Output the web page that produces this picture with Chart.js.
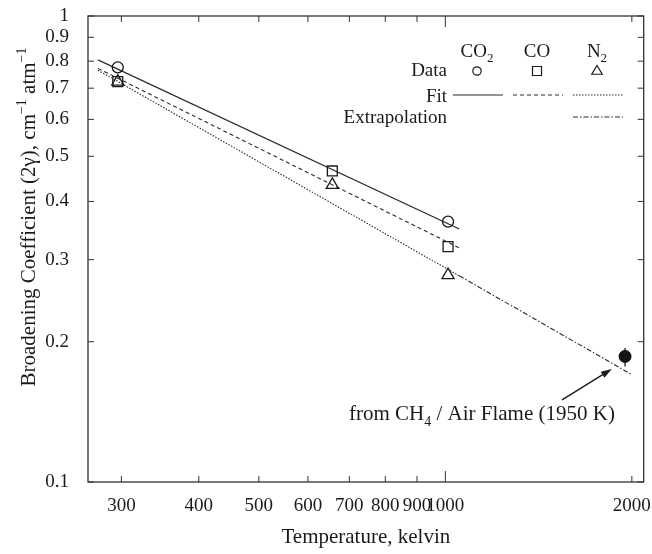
<!DOCTYPE html>
<html>
<head>
<meta charset="utf-8">
<script src="https://cdn.jsdelivr.net/npm/chart.js@4.4.1/dist/chart.umd.min.js"></script>
<style>
  html, body { margin: 0; padding: 0; background: #fff; }
  #wrap { position: relative; width: 652px; height: 554px; }
</style>
</head>
<body>
<div id="wrap"><canvas id="broadening-chart"></canvas></div>
<script>
// measured points (temperature in K, coefficient in cm-1 atm-1)
var co2Temp = [296, 1010];
var co2Coef = [0.776, 0.362];
var coTemp = [296, 657, 1010];
var coCoef = [0.723, 0.465, 0.32];
var n2Temp = [296, 657, 1010];
var n2Coef = [0.723, 0.434, 0.278];

// power-law fits, end points only
var fitTemp = [275, 1053];
var co2FitCoef = [0.805, 0.349];
var coFitCoef = [0.772, 0.318];
var n2FitCoef = [0.765, 0.277];
var extrapTemp = [1053, 2000];
var n2ExtrapCoef = [0.277, 0.17];

// CH4 / air flame point with error bar
var flameTemp = [1950];
var flameCoef = [0.186];
var flameErrLow = [0.177];
var flameErrHigh = [0.194];

var xTicks = [300, 400, 500, 600, 700, 800, 900, 1000, 2000];
var xTickLabels = ['300', '400', '500', '600', '700', '800', '900', '1000', '2000'];
var xMajor = [1000];
var yTicks = [0.1, 0.2, 0.3, 0.4, 0.5, 0.6, 0.7, 0.8, 0.9, 1];
var yTickLabels = ['0.1', '0.2', '0.3', '0.4', '0.5', '0.6', '0.7', '0.8', '0.9', '1'];

// annotation arrow + label, in data coordinates
var arrowFrom = [1543, 0.15];
var arrowTo = [1857, 0.1748];
var noteAnchor = [1878, 0.1359]; // right end of text, baseline

var FONT = "'Liberation Serif', 'Times New Roman', serif";
var INK = '#1a1a1a';
var LINE = '#2a2a2a';

function pairs(xs, ys) {
  return xs.map(function (x, i) { return { x: x, y: ys[i] }; });
}

// parts: [text, kind] with kind '' | 'sub' | 'sup'; alphabetic baseline
function richText(ctx, parts, x, y, align, size) {
  size = size || 19;
  var small = Math.round(size * 0.68);
  function fontFor(k) { return (k ? small : size) + 'px ' + FONT; }
  var w = 0;
  parts.forEach(function (p) {
    ctx.font = fontFor(p[1]);
    w += ctx.measureText(p[0]).width;
  });
  var cx = align === 'right' ? x - w : (align === 'center' ? x - w / 2 : x);
  parts.forEach(function (p) {
    ctx.font = fontFor(p[1]);
    var dy = p[1] === 'sub' ? size * 0.27 : (p[1] === 'sup' ? -size * 0.42 : 0);
    ctx.fillText(p[0], cx, y + dy);
    cx += ctx.measureText(p[0]).width;
  });
}

function marker(ctx, style, x, y, r) {
  ctx.beginPath();
  if (style === 'circle') {
    ctx.arc(x, y, r, 0, Math.PI * 2);
  } else if (style === 'rect') {
    ctx.rect(x - r, y - r, 2 * r, 2 * r);
  } else {
    ctx.moveTo(x, y - r * 1.1);
    ctx.lineTo(x + r * 1.05, y + r * 0.65);
    ctx.lineTo(x - r * 1.05, y + r * 0.65);
    ctx.closePath();
  }
  ctx.stroke();
}

var frameAndNotes = {
  id: 'frameAndNotes',
  afterDatasetsDraw: function (chart) {
    var ctx = chart.ctx, a = chart.chartArea;
    var xs = chart.scales.x, ys = chart.scales.y;
    ctx.save();

    function seg(x1, y1, x2, y2) {
      ctx.beginPath(); ctx.moveTo(x1, y1); ctx.lineTo(x2, y2); ctx.stroke();
    }

    // frame and inward ticks
    ctx.strokeStyle = '#333';
    ctx.lineWidth = 1.3;
    ctx.setLineDash([]);
    ctx.strokeRect(a.left, a.top, a.right - a.left, a.bottom - a.top);
    ctx.lineWidth = 1;
    xTicks.forEach(function (v) {
      var px = xs.getPixelForValue(v);
      var len = xMajor.indexOf(v) >= 0 ? 11 : 6;
      seg(px, a.bottom, px, a.bottom - len);
      seg(px, a.top, px, a.top + len);
    });
    yTicks.forEach(function (v) {
      var py = ys.getPixelForValue(v);
      seg(a.left, py, a.left + 6, py);
      seg(a.right, py, a.right - 6, py);
    });

    // error bar on flame point
    ctx.strokeStyle = INK;
    ctx.lineWidth = 1.3;
    flameTemp.forEach(function (t, i) {
      var px = xs.getPixelForValue(t);
      seg(px, ys.getPixelForValue(flameErrLow[i]), px, ys.getPixelForValue(flameErrHigh[i]));
    });

    // arrow
    var x1 = xs.getPixelForValue(arrowFrom[0]), y1 = ys.getPixelForValue(arrowFrom[1]);
    var x2 = xs.getPixelForValue(arrowTo[0]), y2 = ys.getPixelForValue(arrowTo[1]);
    var ang = Math.atan2(y2 - y1, x2 - x1);
    ctx.lineWidth = 1.4;
    seg(x1, y1, x2 - 8 * Math.cos(ang), y2 - 8 * Math.sin(ang));
    ctx.fillStyle = INK;
    ctx.beginPath();
    ctx.moveTo(x2, y2);
    ctx.lineTo(x2 - 11 * Math.cos(ang) + 3.5 * Math.sin(ang), y2 - 11 * Math.sin(ang) - 3.5 * Math.cos(ang));
    ctx.lineTo(x2 - 11 * Math.cos(ang) - 3.5 * Math.sin(ang), y2 - 11 * Math.sin(ang) + 3.5 * Math.cos(ang));
    ctx.closePath();
    ctx.fill();

    // annotation text
    ctx.textBaseline = 'alphabetic';
    richText(ctx, [['from CH', ''], ['4', 'sub'], [' / Air Flame (1950 K)', '']],
      xs.getPixelForValue(noteAnchor[0]), ys.getPixelForValue(noteAnchor[1]), 'right', 21);

    // y axis title, drawn rotated so the superscripts stay real text
    ctx.save();
    ctx.translate(35, 217);
    ctx.rotate(-Math.PI / 2);
    richText(ctx, [['Broadening Coefficient (2\u03b3), cm', ''], ['\u22121', 'sup'],
      [' atm', ''], ['\u22121', 'sup']], 0, 0, 'center', 21);
    ctx.restore();

    // legend table
    var cols = [477, 537, 597];
    richText(ctx, [['CO', ''], ['2', 'sub']], cols[0], 57, 'center');
    richText(ctx, [['CO', '']], cols[1], 57, 'center');
    richText(ctx, [['N', ''], ['2', 'sub']], cols[2], 57, 'center');
    richText(ctx, [['Data', '']], 447, 76, 'right');
    richText(ctx, [['Fit', '']], 447, 102, 'right');
    richText(ctx, [['Extrapolation', '']], 447, 123, 'right');

    ctx.strokeStyle = INK;
    ctx.lineWidth = 1.2;
    marker(ctx, 'circle', cols[0], 71, 4.2);
    marker(ctx, 'rect', cols[1], 71, 4.5);
    marker(ctx, 'triangle', cols[2], 71, 5);

    var fitSets = chart.data.datasets.filter(function (d) { return d.legendRow; });
    fitSets.forEach(function (d) {
      ctx.strokeStyle = d.borderColor;
      ctx.lineWidth = d.borderWidth;
      ctx.setLineDash(d.borderDash || []);
      var yRow = d.legendRow === 'fit' ? 95 : 117;
      seg(cols[d.legendCol] - 24, yRow, cols[d.legendCol] + 26, yRow);
    });
    ctx.restore();
  }
};

var ctx = document.getElementById('broadening-chart').getContext('2d');
var textFont = { family: FONT, size: 19 };

window.broadening = new Chart(ctx, {
  type: 'scatter',
  data: {
    datasets: [
      { label: 'CO2 data', data: pairs(co2Temp, co2Coef), pointStyle: 'circle', pointRadius: 5.5,
        borderColor: INK, backgroundColor: 'rgba(0,0,0,0)', borderWidth: 1.3 },
      { label: 'CO data', data: pairs(coTemp, coCoef), pointStyle: 'rect', pointRadius: 7,
        borderColor: INK, backgroundColor: 'rgba(0,0,0,0)', borderWidth: 1.3 },
      { label: 'N2 data', data: pairs(n2Temp, n2Coef), pointStyle: 'triangle', pointRadius: 7,
        borderColor: INK, backgroundColor: 'rgba(0,0,0,0)', borderWidth: 1.3 },
      { label: 'CH4/air flame', data: pairs(flameTemp, flameCoef), pointStyle: 'circle', pointRadius: 6,
        borderColor: '#111', backgroundColor: '#111', borderWidth: 1 },
      { label: 'CO2 fit', data: pairs(fitTemp, co2FitCoef), showLine: true, pointRadius: 0,
        borderColor: LINE, borderWidth: 1.2, borderDash: [], legendRow: 'fit', legendCol: 0 },
      { label: 'CO fit', data: pairs(fitTemp, coFitCoef), showLine: true, pointRadius: 0,
        borderColor: LINE, borderWidth: 1.1, borderDash: [4, 3], legendRow: 'fit', legendCol: 1 },
      { label: 'N2 fit', data: pairs(fitTemp, n2FitCoef), showLine: true, pointRadius: 0,
        borderColor: LINE, borderWidth: 1.1, borderDash: [1.5, 1.5], legendRow: 'fit', legendCol: 2 },
      { label: 'N2 extrapolation', data: pairs(extrapTemp, n2ExtrapCoef), showLine: true, pointRadius: 0,
        borderColor: LINE, borderWidth: 1.1, borderDash: [5, 2, 1.5, 2], legendRow: 'extrap', legendCol: 2 }
    ]
  },
  options: {
    responsive: true,
    maintainAspectRatio: false,
    animation: false,
    events: [],
    layout: { padding: { top: 16, right: 7, bottom: 0, left: 0 } },
    plugins: { legend: { display: false }, tooltip: { enabled: false } },
    scales: {
      x: {
        type: 'logarithmic', min: 265, max: 2090,
        grid: { display: false }, border: { display: false },
        afterBuildTicks: function (s) { s.ticks = xTicks.map(function (v) { return { value: v }; }); },
        afterFit: function (s) { s.height = 72; s.paddingLeft = 0; s.paddingRight = 0; },
        ticks: {
          autoSkip: false, maxRotation: 0, minRotation: 0, padding: 5, color: INK, font: textFont,
          callback: function (v) { return xTickLabels[xTicks.indexOf(v)]; }
        },
        title: { display: true, text: 'Temperature, kelvin', color: INK, font: { family: FONT, size: 21 },
          padding: { top: 0, bottom: 4 } }
      },
      y: {
        type: 'logarithmic', min: 0.1, max: 1,
        grid: { display: false }, border: { display: false },
        afterBuildTicks: function (s) { s.ticks = yTicks.map(function (v) { return { value: v }; }); },
        afterFit: function (s) { s.width = 88; s.paddingTop = 0; s.paddingBottom = 0; },
        ticks: {
          autoSkip: false, padding: 11, color: INK, font: textFont,
          callback: function (v) { return yTickLabels[yTicks.indexOf(v)]; }
        },
        title: { display: false }
      }
    }
  },
  plugins: [frameAndNotes]
});
</script>
</body>
</html>
